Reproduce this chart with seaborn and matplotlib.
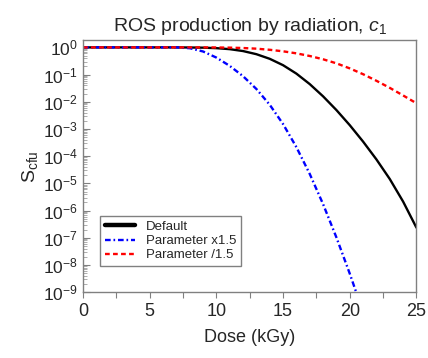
import numpy as np
import pandas as pd
import matplotlib
matplotlib.use("Agg")
import matplotlib.pyplot as plt
import seaborn as sns

# Dose (kGy)
dose = list(range(0, 26))
dose_blue = list(range(0, 22))

# log10 of S_cfu
log_default = [0, 0, 0, 0, 0, 0, 0, 0, -0.004, -0.01, -0.028, -0.065, -0.135,
               -0.25, -0.42, -0.655, -0.965, -1.35, -1.80, -2.305, -2.86,
               -3.465, -4.12, -4.84, -5.67, -6.63]
log_x15 = [0, 0, 0, 0, 0, 0, 0, 0, -0.03, -0.15, -0.375, -0.68, -1.06,
           -1.53, -2.11, -2.82, -3.67, -4.655, -5.765, -6.99, -8.32, -9.74]
log_d15 = [0, 0, 0, 0, 0, 0, 0, 0, 0, 0, -0.003, -0.009, -0.023, -0.047,
           -0.088, -0.144, -0.219, -0.316, -0.437, -0.586, -0.772, -0.986,
           -1.228, -1.488, -1.767, -2.055]

labels = ["Default", "Parameter x1.5", "Parameter /1.5"]
colors = ["black", "#0000ff", "#ff0000"]

sns.set_theme(style="white")
plt.rcParams["font.family"] = ["Liberation Sans", "DejaVu Sans"]
plt.rcParams["mathtext.fontset"] = "custom"
plt.rcParams["mathtext.rm"] = "Liberation Sans"
plt.rcParams["mathtext.it"] = "Liberation Sans:italic"
plt.rcParams["mathtext.bf"] = "Liberation Sans:bold"

df_def = pd.DataFrame({"dose": dose, "S": 10.0 ** np.array(log_default)})
df_x15 = pd.DataFrame({"dose": dose_blue, "S": 10.0 ** np.array(log_x15)})
df_d15 = pd.DataFrame({"dose": dose, "S": 10.0 ** np.array(log_d15)})

fig = plt.figure(figsize=(4.28, 3.58), dpi=100)
ax = fig.add_axes([0.194, 0.184, 0.779, 0.703])

lw = 1.7
sns.lineplot(data=df_def, x="dose", y="S", ax=ax, color=colors[0], lw=lw,
             label=labels[0])
sns.lineplot(data=df_x15, x="dose", y="S", ax=ax, color=colors[1], lw=lw,
             label=labels[1])
ax.lines[-1].set_dashes((2.4, 1.2, 0.7, 1.2))
sns.lineplot(data=df_d15, x="dose", y="S", ax=ax, color=colors[2], lw=lw,
             label=labels[2])
ax.lines[-1].set_dashes((2.0, 1.4))

ax.set_yscale("log")
ax.set_xlim(0, 25)
ax.set_ylim(1e-9, 1.8)
ax.set_xticks([0, 5, 10, 15, 20, 25])
ax.set_xticks(np.arange(0, 25.1, 2.5), minor=True)
ax.set_yticks([10.0 ** k for k in range(-9, 1)])
ax.yaxis.set_minor_locator(matplotlib.ticker.LogLocator(base=10, subs=np.arange(2, 10), numticks=20))
ax.yaxis.set_minor_formatter(matplotlib.ticker.NullFormatter())

gray = "#808080"
for s in ax.spines.values():
    s.set_color(gray)
    s.set_linewidth(1.0)
ax.tick_params(axis="x", which="both", direction="out", length=4, width=0.8,
               color=gray, labelsize=13, pad=4, bottom=True)
ax.tick_params(axis="y", which="major", direction="in", length=5, width=0.8,
               color=gray, labelsize=12.5, left=True)
ax.tick_params(axis="y", which="minor", direction="in", length=3, width=0.6,
               color="#a0a0a0", left=True)

ax.set_xlabel("Dose (kGy)", fontsize=13, labelpad=6)
ax.set_ylabel(r"S$_{\mathrm{cfu}}$", fontsize=14, labelpad=2)
ax.set_title(r"ROS production by radiation, $\mathit{c_1}$", fontsize=14, pad=7)

leg = ax.legend(loc="lower left", bbox_to_anchor=(0.051, 0.104),
                borderaxespad=0, fontsize=9.5, fancybox=False, framealpha=1,
                edgecolor=gray, handlelength=2.3, labelspacing=0.15,
                borderpad=0.35, handletextpad=0.8)
leg.get_frame().set_linewidth(1.0)
leg.legend_handles[0].set_linewidth(3.2)

fig.savefig("out.png", dpi=100)
